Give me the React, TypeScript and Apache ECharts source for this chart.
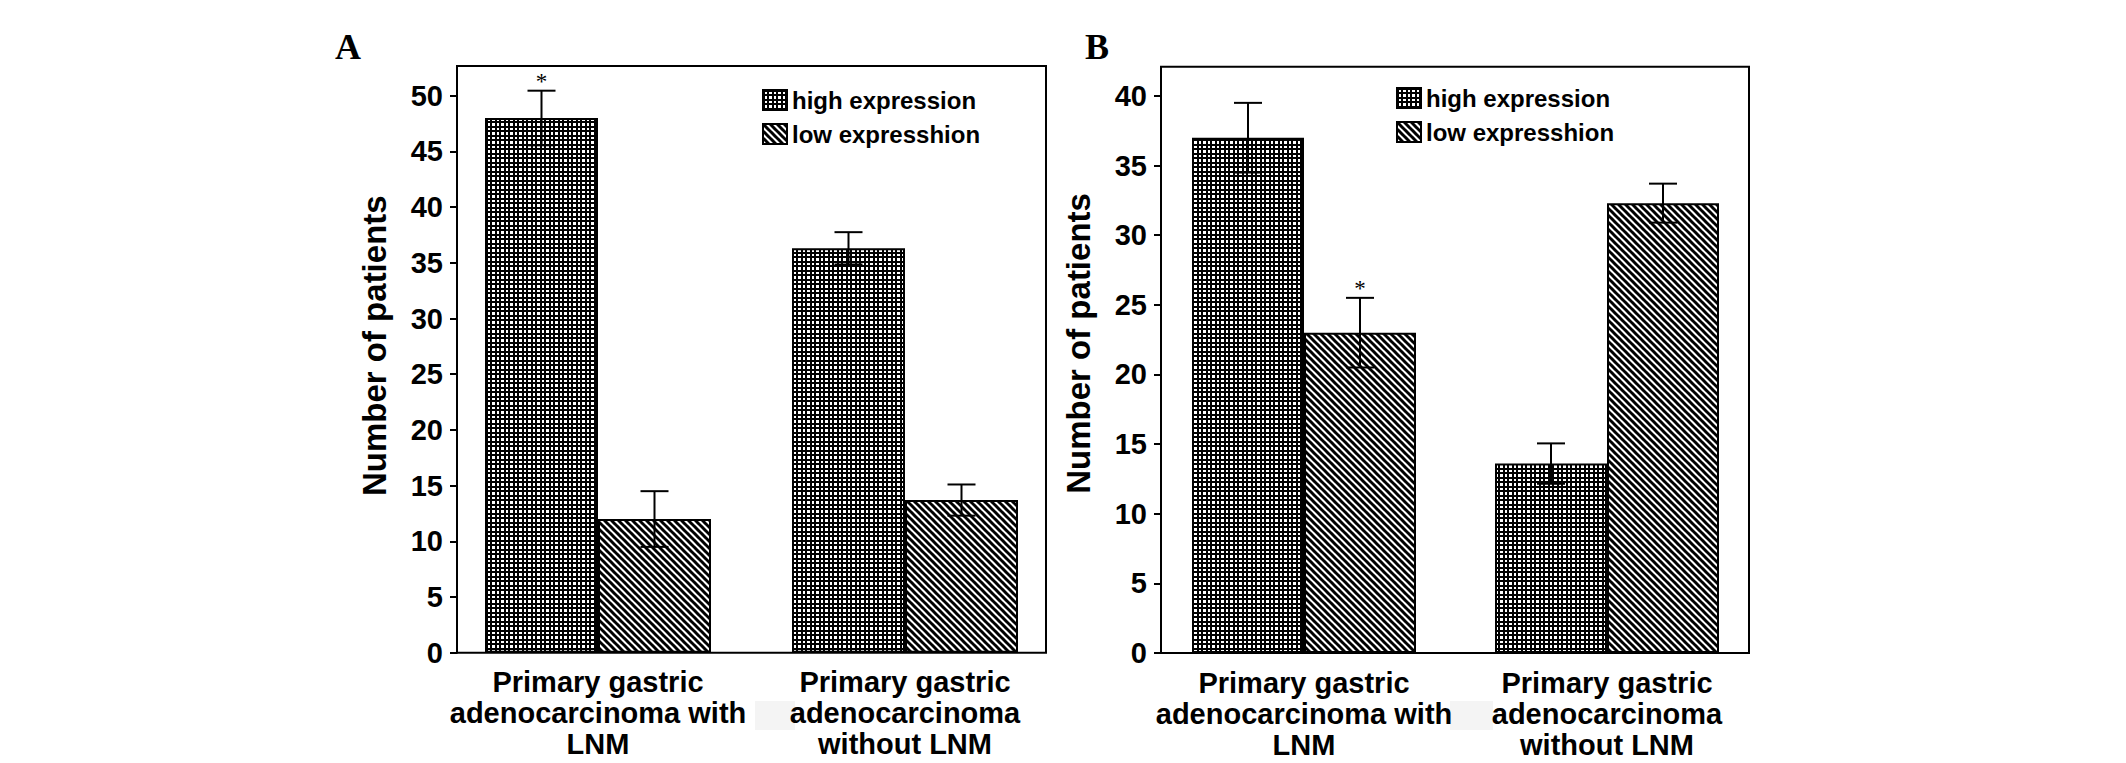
import React, { useEffect, useRef } from 'react';
import * as echarts from 'echarts';

const categories = [
  'Primary gastric\nadenocarcinoma with\nLNM',
  'Primary gastric\nadenocarcinoma\nwithout LNM',
];
const seriesNames = ['high expression', 'low expresshion'];

// panel A
const aHigh = [48, 36.3];
const aHighErr = [2.45, 1.45];
const aHighStar = [true, false];
const aLow = [12, 13.7];
const aLowErr = [2.5, 1.4];
const aLowStar = [false, false];
const aMax = 50;

// panel B
const bHigh = [37, 13.6];
const bHighErr = [2.5, 1.45];
const bHighStar = [false, false];
const bLow = [23, 32.3];
const bLowErr = [2.5, 1.4];
const bLowStar = [true, false];
const bMax = 40;

const yInterval = 5;
const FONT = '"Liberation Sans", Arial, Helvetica, sans-serif';
const SERIF = '"Liberation Serif", "Times New Roman", serif';

const makeGridPattern = () => {
  const c = document.createElement('canvas');
  c.width = 9;
  c.height = 9;
  const ctx = c.getContext('2d')!;
  ctx.fillStyle = '#fff';
  ctx.fillRect(0, 0, 9, 9);
  ctx.fillStyle = '#000';
  ctx.fillRect(0, 0, 2, 9);
  ctx.fillRect(4, 0, 2, 9);
  ctx.fillRect(0, 0, 9, 2);
  ctx.fillRect(0, 4, 9, 2);
  return { image: c, repeat: 'repeat', imageWidth: 9, imageHeight: 9 };
};

const makeHatchPattern = () => {
  const s = 7;
  const c = document.createElement('canvas');
  c.width = s;
  c.height = s;
  const ctx = c.getContext('2d')!;
  ctx.fillStyle = '#fff';
  ctx.fillRect(0, 0, s, s);
  ctx.strokeStyle = '#000';
  ctx.lineWidth = 3;
  for (const o of [-s, 0, s]) {
    ctx.beginPath();
    ctx.moveTo(o - 1, -1);
    ctx.lineTo(o + s + 1, s + 1);
    ctx.stroke();
  }
  return { image: c, repeat: 'repeat', imageWidth: s, imageHeight: s };
};

// [category, series, value, error, star]
const errRows = (
  high: number[], highErr: number[], highStar: boolean[],
  low: number[], lowErr: number[], lowStar: boolean[]
) => {
  const rows: number[][] = [];
  high.forEach((v, i) => rows.push([i, 0, v, highErr[i], highStar[i] ? 1 : 0]));
  low.forEach((v, i) => rows.push([i, 1, v, lowErr[i], lowStar[i] ? 1 : 0]));
  return rows;
};

const App: React.FC = () => {
  const chartRef = useRef<HTMLDivElement>(null);

  useEffect(() => {
    if (!chartRef.current) return;
    document.body.style.margin = '0';
    const chart = echarts.init(chartRef.current, null, { renderer: 'svg' });

    const gridFill = makeGridPattern();
    const hatchFill = makeHatchPattern();

    const errorSeries = (idx: number, rows: number[][], bw: number) => ({
      type: 'custom',
      xAxisIndex: idx,
      yAxisIndex: idx,
      z: 5,
      clip: false,
      silent: true,
      encode: { x: 0, y: 2 },
      data: rows,
      renderItem: (_p: any, api: any) => {
        const cat = api.value(0);
        const s = api.value(1);
        const v = api.value(2);
        const e = api.value(3);
        const star = api.value(4);
        const base = api.coord([cat, v]);
        const x = base[0] + (s === 0 ? -1 : 1) * (bw / 2);
        const yTop = api.coord([cat, v + e])[1];
        const yBot = api.coord([cat, v - e])[1];
        const cap = 14;
        const style = { stroke: '#000', lineWidth: 2 };
        const children: any[] = [
          { type: 'line', shape: { x1: x, y1: yTop, x2: x, y2: yBot }, style },
          { type: 'line', shape: { x1: x - cap, y1: yTop, x2: x + cap, y2: yTop }, style },
          { type: 'line', shape: { x1: x - cap, y1: yBot, x2: x + cap, y2: yBot }, style },
        ];
        if (star) {
          children.push({
            type: 'text',
            style: {
              text: '*',
              x,
              y: yTop - 21,
              align: 'center',
              verticalAlign: 'top',
              fontSize: 23,
              fontFamily: SERIF,
              fill: '#000',
            },
          });
        }
        return { type: 'group', children };
      },
    });

    const barSeries = (idx: number, name: string, data: number[], fill: any, bw: number) => ({
      type: 'bar',
      name,
      xAxisIndex: idx,
      yAxisIndex: idx,
      data,
      barWidth: bw,
      barGap: '0%',
      itemStyle: { color: fill, borderColor: '#000', borderWidth: 2 },
    });

    const xAxis = (idx: number) => ({
      type: 'category',
      gridIndex: idx,
      data: categories,
      axisLine: { show: false },
      axisTick: { alignWithLabel: true, length: 8, lineStyle: { color: '#000', width: 2 } },
      axisLabel: {
        interval: 0,
        margin: 14,
        color: '#000',
        fontSize: 29,
        fontWeight: 'bold',
        fontFamily: FONT,
        lineHeight: 31,
      },
    });

    const yAxis = (idx: number, max: number, offset: number, shift: number) => ({
      type: 'value',
      gridIndex: idx,
      min: 0,
      max,
      interval: yInterval,
      offset,
      splitLine: { show: false },
      axisLine: { show: true, lineStyle: { color: '#000', width: 2 } },
      axisTick: { show: true, length: 7, lineStyle: { color: '#000', width: 2 } },
      axisLabel: {
        margin: 14,
        color: '#000',
        fontSize: 29,
        fontWeight: 'bold',
        fontFamily: FONT,
      },
      name: 'Number of patients',
      nameLocation: 'middle',
      nameGap: 66,
      nameTextStyle: {
        color: '#000',
        fontSize: 33,
        fontWeight: 'bold',
        fontFamily: FONT,
        padding: [0, 0, 0, shift],
      },
    });

    const legend = (left: number, top: number) => ({
      data: seriesNames,
      orient: 'vertical',
      left,
      top,
      padding: 0,
      itemGap: 10,
      itemWidth: 24,
      itemHeight: 20,
      icon: 'rect',
      selectedMode: false,
      itemStyle: { borderColor: '#000', borderWidth: 2 },
      textStyle: { color: '#000', fontSize: 24, fontWeight: 'bold', fontFamily: FONT },
    });

    const frame = (x: number, y: number, w: number, h: number) => ({
      type: 'rect',
      z: 10,
      shape: { x, y, width: w, height: h },
      style: { fill: 'none', stroke: '#000', lineWidth: 2 },
    });

    const option: any = {
      animation: false,
      backgroundColor: '#fff',
      grid: [
        { left: 444.5, top: 95.7, width: 614, height: 557 },
        { left: 1152.5, top: 95.9, width: 606, height: 557.1 },
      ],
      xAxis: [xAxis(0), xAxis(1)],
      yAxis: [yAxis(0, aMax, -12.5, 57), yAxis(1, bMax, -8.5, 62)],
      legend: [legend(762, 88), legend(1396, 86)],
      graphic: [
        frame(457, 66, 589, 586.7),
        frame(1161, 66.7, 588, 586.3),
        { type: 'rect', shape: { x: 755, y: 701, width: 40, height: 29 }, style: { fill: '#f4f4f4' } },
        { type: 'rect', shape: { x: 1450, y: 701, width: 43, height: 29 }, style: { fill: '#f4f4f4' } },
        { type: 'text', left: 335, top: 29, style: { text: 'A', fontSize: 36, fontWeight: 'bold', fontFamily: SERIF, fill: '#000' } },
        { type: 'text', left: 1085, top: 29, style: { text: 'B', fontSize: 36, fontWeight: 'bold', fontFamily: SERIF, fill: '#000' } },
      ],
      series: [
        barSeries(0, seriesNames[0], aHigh, gridFill, 113),
        barSeries(0, seriesNames[1], aLow, hatchFill, 113),
        errorSeries(0, errRows(aHigh, aHighErr, aHighStar, aLow, aLowErr, aLowStar), 113),
        barSeries(1, seriesNames[0], bHigh, gridFill, 112),
        barSeries(1, seriesNames[1], bLow, hatchFill, 112),
        errorSeries(1, errRows(bHigh, bHighErr, bHighStar, bLow, bLowErr, bLowStar), 112),
      ],
    };

    chart.setOption(option);

    const handleResize = () => chart.resize();
    window.addEventListener('resize', handleResize);
    return () => {
      window.removeEventListener('resize', handleResize);
      chart.dispose();
    };
  }, []);

  return <div ref={chartRef} style={{ width: '2126px', height: '763px' }} />;
};

export default App;
